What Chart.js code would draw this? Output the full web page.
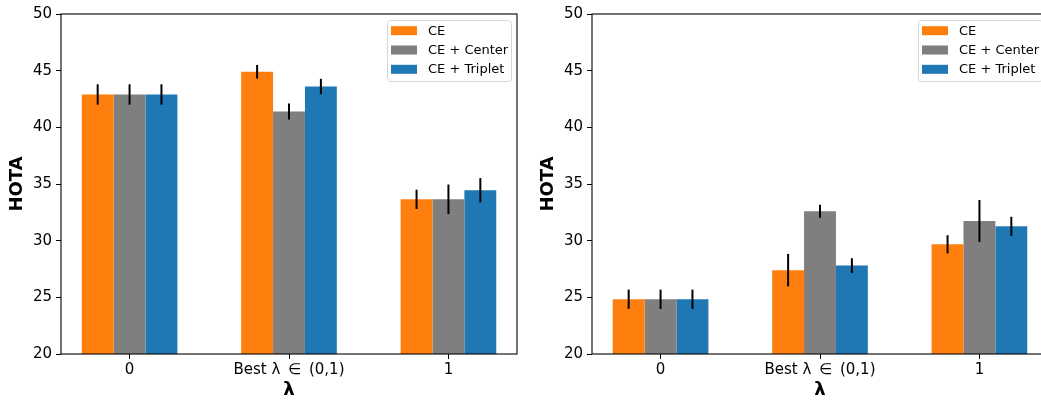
<!DOCTYPE html>
<html>
<head>
<meta charset="utf-8">
<script src="https://cdn.jsdelivr.net/npm/chart.js@4.4.1/dist/chart.umd.min.js"></script>
<style>
  html, body { margin: 0; padding: 0; background: #fff; overflow: hidden; width: 1041px; height: 401px; }
  canvas { position: absolute; top: 0; }
  #left { left: 0; }
  #right { left: 531px; }
</style>
</head>
<body>
<canvas id="left" width="530" height="401"></canvas>
<canvas id="right" width="530" height="401"></canvas>
<script>
// ---- data ----
const categories = ["0", "Best \u03bb \u2009\u2208\u2009 (0,1)", "1"];
const seriesNames = ["CE", "CE + Center", "CE + Triplet"];
const seriesColors = ["#ff7f0e", "#7f7f7f", "#1f77b4"];
const yTicks = [20, 25, 30, 35, 40, 45, 50];

// left panel
const leftCE = [42.9, 44.9, 33.65];
const leftCenter = [42.9, 41.4, 33.65];
const leftTriplet = [42.9, 43.6, 34.45];
const leftCEErr = [0.9, 0.6, 0.85];
const leftCenterErr = [0.9, 0.7, 1.3];
const leftTripletErr = [0.9, 0.68, 1.07];

// right panel
const rightCE = [24.83, 27.4, 29.68];
const rightCenter = [24.83, 32.6, 31.74];
const rightTriplet = [24.83, 27.8, 31.27];
const rightCEErr = [0.85, 1.43, 0.8];
const rightCenterErr = [0.85, 0.57, 1.85];
const rightTripletErr = [0.85, 0.65, 0.84];

const FONT = "'DejaVu Sans', sans-serif";

// error bars on top of the bars
const errorBars = {
  id: "errorBars",
  afterDatasetsDraw(chart) {
    const ctx = chart.ctx;
    const y = chart.scales.y;
    ctx.save();
    ctx.strokeStyle = "#000";
    ctx.lineWidth = 2;
    chart.data.datasets.forEach((ds, i) => {
      const meta = chart.getDatasetMeta(i);
      meta.data.forEach((bar, j) => {
        const v = ds.data[j].y, e = ds.errors[j];
        ctx.beginPath();
        ctx.moveTo(bar.x, y.getPixelForValue(v + e));
        ctx.lineTo(bar.x, y.getPixelForValue(v - e));
        ctx.stroke();
      });
    });
    ctx.restore();
  }
};

// axes frame + matplotlib-like legend box
const frameLegend = {
  id: "frameLegend",
  afterDraw(chart) {
    const ctx = chart.ctx;
    const a = chart.chartArea;
    ctx.save();
    ctx.strokeStyle = "#000";
    ctx.lineWidth = 1.1;
    ctx.strokeRect(a.left, a.top, a.right - a.left, a.bottom - a.top);

    const w = 124, h = 61;
    const bx = a.right - 6 - w, by = a.top + 6;
    ctx.beginPath();
    ctx.roundRect(bx + 0.5, by + 0.5, w, h, 3);
    ctx.fillStyle = "rgba(255,255,255,0.8)";
    ctx.fill();
    ctx.strokeStyle = "#d6d6d6";
    ctx.lineWidth = 1;
    ctx.stroke();

    ctx.font = "13px " + FONT;
    ctx.textBaseline = "middle";
    ctx.textAlign = "left";
    chart.data.datasets.forEach((ds, i) => {
      const cy = by + 10.7 + i * 19.3;
      ctx.fillStyle = ds.backgroundColor;
      ctx.fillRect(bx + 4, cy - 4.5, 26, 9);
      ctx.fillStyle = "#000";
      ctx.fillText(ds.label, bx + 41, cy + 0.5);
    });
    ctx.restore();
  }
};

function makeDatasets(values, errors) {
  return values.map((vals, s) => ({
    label: seriesNames[s],
    data: vals.map((v, i) => ({ x: i, y: v })),
    errors: errors[s],
    backgroundColor: seriesColors[s],
    borderWidth: 0,
    categoryPercentage: 0.6,
    barPercentage: 1.0
  }));
}

function makeChart(id, values, errors) {
  return new Chart(document.getElementById(id).getContext("2d"), {
    type: "bar",
    data: { datasets: makeDatasets(values, errors) },
    options: {
      responsive: false,
      devicePixelRatio: 1,
      animation: false,
      layout: { padding: { left: 0, right: 13, top: 14, bottom: 0 } },
      plugins: { legend: { display: false }, tooltip: { enabled: false } },
      scales: {
        x: {
          type: "linear",
          min: -0.43,
          max: 2.43,
          offset: false,
          bounds: "data",
          afterBuildTicks: (axis) => { axis.ticks = categories.map((c, i) => ({ value: i })); },
          afterFit: (axis) => { axis.height = 47; },
          grid: { offset: false, drawOnChartArea: false, drawTicks: true, tickLength: 5, color: "#000", lineWidth: 1 },
          border: { display: false },
          ticks: {
            autoSkip: false,
            maxRotation: 0,
            padding: 2,
            color: "#000",
            font: { family: FONT, size: 15 },
            callback: (v) => categories[v]
          },
          title: {
            display: true,
            text: "\u03bb",
            color: "#000",
            font: { family: FONT, size: 18, weight: "bold" },
            padding: { top: 0, bottom: 0 }
          }
        },
        y: {
          min: 20,
          max: 50,
          afterBuildTicks: (axis) => { axis.ticks = yTicks.map((v) => ({ value: v })); },
          afterFit: (axis) => { axis.width = 61; },
          grid: { drawOnChartArea: false, drawTicks: true, tickLength: 5, color: "#000", lineWidth: 1 },
          border: { display: false },
          ticks: {
            padding: 4,
            color: "#000",
            font: { family: FONT, size: 15 }
          },
          title: {
            display: true,
            text: "HOTA",
            color: "#000",
            font: { family: FONT, size: 18, weight: "bold" },
            padding: { top: 7, bottom: 0 }
          }
        }
      }
    },
    plugins: [errorBars, frameLegend]
  });
}

makeChart("left", [leftCE, leftCenter, leftTriplet], [leftCEErr, leftCenterErr, leftTripletErr]);
makeChart("right", [rightCE, rightCenter, rightTriplet], [rightCEErr, rightCenterErr, rightTripletErr]);
</script>
</body>
</html>
